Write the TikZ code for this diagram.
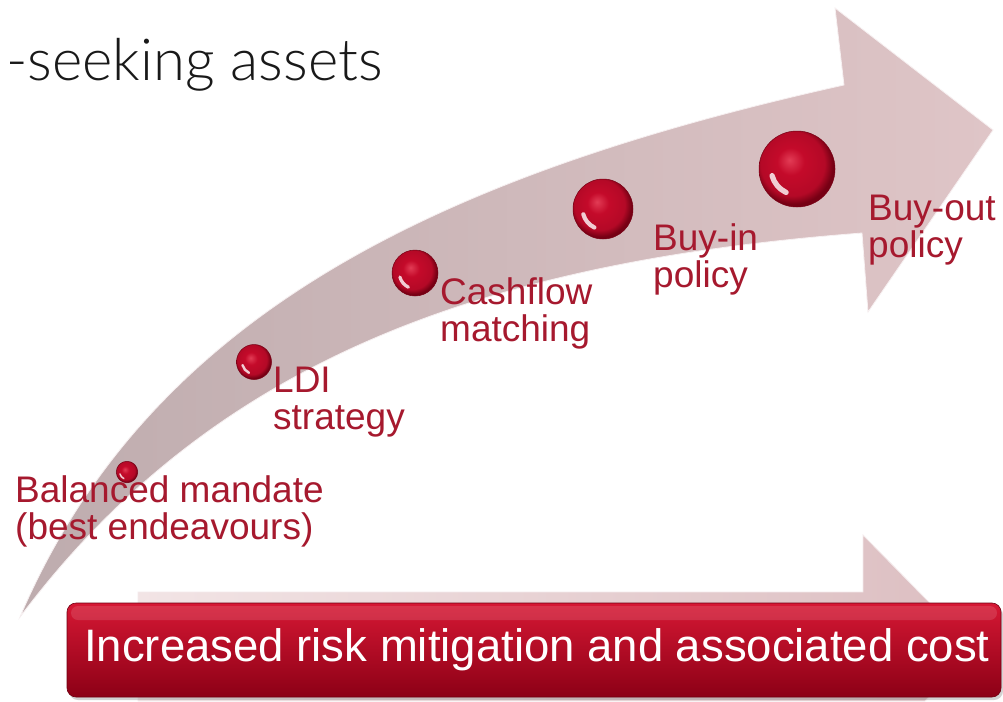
\documentclass[tikz,border=0pt]{standalone}
\usepackage{fontspec}
\setmainfont{Liberation Sans}
\newfontfamily\titlefont{Lato Light}
\usetikzlibrary{shadows}
\definecolor{lblred}{RGB}{166,25,46}
\definecolor{beadred}{RGB}{196,10,42}
\definecolor{beadlight}{RGB}{226,60,85}
\definecolor{beaddark}{RGB}{118,0,20}
\definecolor{arrowgrey}{RGB}{190,172,174}
\definecolor{arrowpink}{RGB}{223,197,199}
\definecolor{barhi}{RGB}{214,24,52}
\definecolor{barlo}{RGB}{140,0,22}
\definecolor{lightarrowL}{RGB}{242,228,229}
\definecolor{lightarrowR}{RGB}{220,190,193}
\pgfdeclareradialshading{beadshade}{\pgfpoint{-5bp}{6bp}}{color(0bp)=(beadlight); color(9bp)=(beadred); color(21bp)=(beadred!92!black); color(26bp)=(beaddark); color(50bp)=(beaddark)}
\tikzset{
  bead/.style={circle, inner sep=0pt, minimum size=#1pt, shading=beadshade, draw=beaddark, line width=0.5pt,
     path picture={\draw[white, opacity=0.8, line width=0.07*#1pt, line cap=round]
        (path picture bounding box.center) ++(115:0.34*#1) arc[start angle=115, end angle=165, radius=0.34*#1];}},
  lbl/.style={anchor=base west, inner sep=0pt, align=left, text=lblred, font=\fontsize{37}{37}\selectfont},
  redbar/.style={rounded corners=9pt, top color=barhi, bottom color=barlo, draw=barlo!80!black, line width=0.6pt,
     minimum width=934pt, minimum height=94pt, inner sep=0pt, text=white, font=\fontsize{45.5}{50}\selectfont,
     drop shadow={shadow xshift=2pt, shadow yshift=-3pt, opacity=0.35}},
}
\begin{document}
\begin{tikzpicture}[x=1pt,y=-1pt]
\useasboundingbox (0,0) rectangle (1003,701);
\fill[white] (0,0) rectangle (1003,701);
% title (cut off at left)
\node[anchor=base west, inner sep=0pt, text=black!90, font=\titlefont\fontsize{58}{60}\selectfont] (title) at (6,81) {-seeking assets};
% curved arrow
\path[left color=arrowgrey, right color=arrowpink, draw=white!75!arrowpink, line width=0.8pt]
  (20,617) .. controls (150,313) and (440,175) .. (844,85) -- (835,8) -- (993,130) -- (868,312) -- (862,233)
  .. controls (482,262) and (212,361) .. (20,617) -- cycle;
% beads
\node[bead=21.5] (b1) at (127,472) {};
\node[bead=35] (b2) at (254,362) {};
\node[bead=46] (b3) at (415,273) {};
\node[bead=60] (b4) at (603,209) {};
\node[bead=76] (b5) at (797,169) {};
% labels (anchored at the baseline of the second line)
\node[lbl] (l1) at (15,539) {Balanced mandate\\(best endeavours)};
\node[lbl] (l2) at (273,429) {LDI\\strategy};
\node[lbl] (l3) at (440,341) {Cashflow\\matching};
\node[lbl] (l4) at (653,287) {Buy-in\\policy};
\node[lbl] (l5) at (868,257) {Buy-out\\policy};
% bottom straight arrow
\path[left color=lightarrowL, right color=lightarrowR, draw=white!70!lightarrowR, line width=0.8pt]
  (138,592) -- (863,592) -- (863,535) -- (976,650) -- (925,701) -- (138,701) -- cycle;
% red bar
\node[redbar] (bar) at (534,650) {};
\node[inner sep=0pt, text=white, font=\fontsize{45.5}{50}\selectfont] (bartext) at (537,650) {Increased risk mitigation and associated cost};
\fill[white, opacity=0.12, rounded corners=7pt] (71,606) rectangle (997,620);
\end{tikzpicture}
\end{document}
